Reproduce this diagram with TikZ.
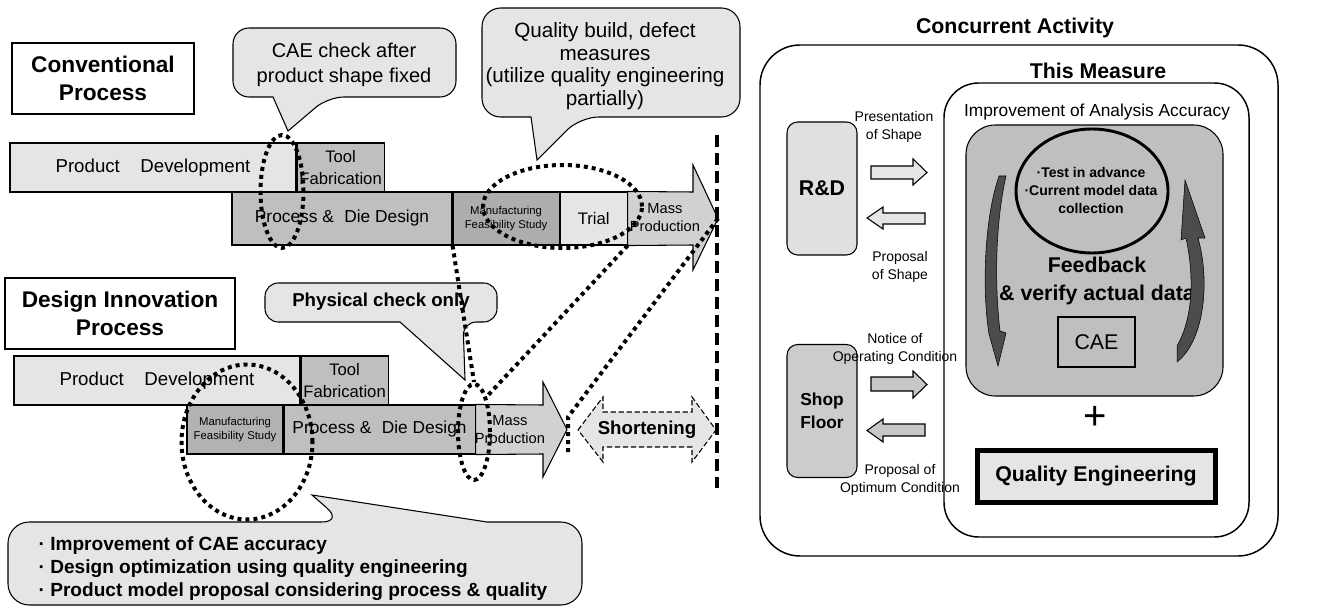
\documentclass[tikz,border=0pt]{standalone}
\usepackage{fontspec}
\setmainfont{Liberation Sans}
\usetikzlibrary{shapes.geometric, positioning, calc}

\begin{document}
\begin{tikzpicture}[x=0.75pt, y=-0.75pt]
	\tikzstyle{heading} = [draw, line width=1pt, align=center, font=\bfseries\fontsize{17}{21}\selectfont, minimum height=53.25pt, inner sep=0pt]
	\tikzstyle{bar} = [draw, thick, align=center, inner sep=0pt, minimum height=36.75pt, font=\fontsize{14}{16}\selectfont]
	\tikzstyle{bubble} = [draw, thick, fill=black!10]
	\tikzstyle{loop} = [ellipse, draw, line width=3pt, dash pattern=on 3pt off 3pt, inner sep=0pt]
	\tikzstyle{trace} = [line width=3pt, dash pattern=on 3pt off 3pt]
	\tikzstyle{party} = [draw, thick, rounded corners=8pt, minimum width=52.5pt, minimum height=99.75pt, align=center]
	\tikzstyle{small} = [align=center, font=\fontsize{10.5}{13.5}\selectfont]

	\useasboundingbox (0,0) rectangle (1326,609);

	% callouts
	\draw[bubble] (344,28) [rounded corners=12pt] -- (456,28) -- (456,97) -- (328,97) [sharp corners] -- (288,131) -- (273,97) [rounded corners=12pt] -- (233,97) -- (233,28) -- cycle;
	\node[align=center, font=\fontsize{15}{18.75}\selectfont] (note1) at (344,64.5) {CAE check after\\product shape fixed};

	\draw[bubble] (611,8) [rounded corners=14pt] -- (740,8) -- (740,117) -- (580,117) [sharp corners] -- (537,160) -- (531,117) [rounded corners=14pt] -- (482,117) -- (482,8) -- cycle;
	\node[align=center, font=\fontsize{15.5}{17}\selectfont] (note2) at (605,66) {Quality build, defect\\measures\\(utilize quality engineering\\partially)};

	\draw[bubble] (380,283) [rounded corners=10pt] -- (497,283) -- (497,322) -- (463,322) [sharp corners] -- (465,380) -- (400,322) [rounded corners=10pt] -- (265,322) -- (265,283) -- cycle;
	\node[font=\bfseries\fontsize{14}{16}\selectfont] (note3) at (381,302) {Physical check only};

	\draw[bubble] (200,605) [rounded corners=16pt] -- (8,605) -- (8,522) -- (343,522) [sharp corners] -- (312,495) -- (487,522) [rounded corners=16pt] -- (582,522) -- (582,605) -- cycle;
	\node[anchor=west, align=left, font=\bfseries\fontsize{14.3}{17.25}\selectfont] (note4) at (34,569) {· Improvement of CAE accuracy\\· Design optimization using quality engineering\\· Product model proposal considering process \& quality};

	% conventional process
	\node[heading, minimum width=136.5pt] (conv) at (103,78.5) {Conventional\\Process};
	\node[bar, fill=black!10, minimum width=214.5pt] (pd1) at (153,167.5) {Product\hspace{1.1em}Development};
	\node[bar, fill=black!25, minimum width=65.25pt, font=\fontsize{12.5}{16}\selectfont, right=0pt of pd1] (tf1) {Tool\\Fabrication};
	\node[bar, fill=black!25, minimum width=165pt, minimum height=39.75pt, font=\fontsize{13}{16}\selectfont] (pdd1) at (342,218.5) {Process \&\hspace{0.6em}Die Design};
	\node[bar, fill=black!32, minimum width=79.5pt, minimum height=39.75pt, font=\fontsize{8.5}{10.5}\selectfont, right=0pt of pdd1] (mfs1) {Manufacturing\\Feasibility Study};
	\node[bar, fill=black!10, minimum width=50.25pt, minimum height=39.75pt, font=\fontsize{12.5}{15}\selectfont, right=0pt of mfs1] (tr1) {Trial};
	\draw[thick, fill=black!18] (tr1.north east) -- (693,192) -- (693,165) -- (718,218.5) -- (693,270) -- (693,245) -- (tr1.south east) -- cycle;
	\coordinate (tip1) at (718,218.5);
	\node[align=center, font=\fontsize{11}{13.5}\selectfont] (mp1) at (665,218) {Mass\\Production};

	% design innovation process
	\node[heading, minimum width=172.5pt] (innov) at (120,313.5) {Design Innovation\\Process};
	\node[bar, fill=black!10, minimum width=214.5pt] (pd2) at (157,380.5) {Product\hspace{1.1em}Development};
	\node[bar, fill=black!25, minimum width=65.25pt, font=\fontsize{12.5}{16}\selectfont, right=0pt of pd2] (tf2) {Tool\\Fabrication};
	\node[bar, fill=black!30, minimum width=72pt, font=\fontsize{8.5}{10.5}\selectfont] (mfs2) at (235,429.5) {Manufacturing\\Feasibility Study};
	\node[bar, fill=black!25, minimum width=143.25pt, font=\fontsize{13}{16}\selectfont, right=0pt of mfs2] (pdd2) {Process \&\hspace{0.6em}Die Design};
	\draw[thick, fill=black!18] (pdd2.north east) -- (543,405) -- (543,382) -- (567,429.5) -- (543,477) -- (543,454) -- (pdd2.south east) -- cycle;
	\coordinate (tip2) at (567,429.5);
	\node[align=center, font=\fontsize{11}{13.5}\selectfont] (mp2) at (510,430) {Mass\\Production};

	% shortening
	\draw[thick, dash pattern=on 4pt off 2pt, fill=black!10] (578,430) -- (603,397) -- (603,412) -- (692,412) -- (692,397) -- (716,430) -- (692,462) -- (692,447) -- (603,447) -- (603,462) -- cycle;
	\node[font=\bfseries\fontsize{14}{16}\selectfont] (short) at (647,430) {Shortening};

	% dotted marks
	\node[loop, minimum width=32.25pt, minimum height=84.75pt] (e1) at (282,191.5) {};
	\node[loop, minimum width=119.25pt, minimum height=62.25pt] (e2) at (562.5,206.5) {};
	\node[loop, minimum width=24pt, minimum height=72pt] (e3) at (474,432) {};
	\node[loop, minimum width=98.25pt, minimum height=116.25pt] (e4) at (247,442) {};

	\coordinate (drop) at (568,417);
	\coordinate (dropend) at (568,455);
	\draw[trace] (mfs1.south west) -- (e3.north);
	\draw[trace] (tr1.south east) -- (e3.north east);
	\draw[trace] (tip1) -- (drop) -- (dropend);

	\coordinate (limtop) at (717,135);
	\coordinate (limbot) at (717,488);
	\draw[line width=3pt, dash pattern=on 9pt off 4.5pt] (limtop) -- (limbot);

	% concurrent activity
	\node[font=\bfseries\fontsize{16}{18}\selectfont] (conc) at (1015,28) {Concurrent Activity};
	\draw[line width=1.1pt, rounded corners=30pt] (760,45) rectangle (1278,556);
	\node[font=\bfseries\fontsize{16}{18}\selectfont] (meas) at (1098,71) {This Measure};
	\draw[line width=1.1pt, rounded corners=26pt] (944,83) rectangle (1249,537);
	\node[font=\fontsize{13}{15}\selectfont] (acc) at (1097,112) {Improvement of Analysis Accuracy};
	\draw[thick, fill=black!25, rounded corners=22pt] (966,125) rectangle (1223,396);

	\node[ellipse, draw, line width=2.2pt, minimum width=114pt, minimum height=93pt] (test) at (1092,191) {};
	\node[align=center, font=\bfseries\fontsize{10.5}{13.5}\selectfont] (testtxt) at (1091,190) {·Test in advance\\·Current model data\\collection};
	\node[align=center, font=\bfseries\fontsize{16}{20.5}\selectfont] (feed) at (1097,281) {Feedback\\\& verify actual data};
	\node[draw, line width=2.2pt, minimum width=57.75pt, minimum height=37.5pt, font=\fontsize{16}{18}\selectfont] (cae) at (1096.5,342) {CAE};

	% cycle arrows
	\draw[thin, fill=black!70] (999,176) .. controls (984,220) and (982,290) .. (989,334) -- (998,366) -- (1006,333) -- (1000,331) .. controls (994,280) and (996,220) .. (1006,176) -- cycle;
	\draw[thin, fill=black!70] (1185,180) -- (1205,238) -- (1198,238) .. controls (1210,280) and (1205,340) .. (1177,362) -- (1177,346) .. controls (1192,320) and (1195,280) .. (1186,238) -- (1181,240) -- cycle;

	\node[font=\fontsize{30}{30}\selectfont] (plus) at (1095,418) {+};
	\node[draw, line width=3.75pt, fill=black!10, minimum width=178.5pt, minimum height=39pt, font=\bfseries\fontsize{16}{18}\selectfont] (qe) at (1096,476) {Quality Engineering};

	% departments
	\node[party, fill=black!12, font=\bfseries\fontsize{16}{18}\selectfont] (rd) at (822,188.5) {R\&D};
	\node[party, fill=black!20, font=\bfseries\fontsize{13}{17}\selectfont] (shop) at (822,411) {Shop\\Floor};

	\node[small] (pres) at (894,127) {Presentation\\of Shape};
	\draw[thick, fill=black!10] (871,166) -- (913,166) -- (913,159) -- (927,172.5) -- (913,185) -- (913,179) -- (871,179) -- cycle;
	\draw[thick, fill=black!10] (925,213) -- (883,213) -- (883,207) -- (867,218) -- (883,229) -- (883,224) -- (925,224) -- cycle;
	\node[small] (prop) at (900,267) {Proposal\\of Shape};

	\node[small] (notice) at (895,349) {Notice of\\Operating Condition};
	\draw[thick, fill=black!22] (871,377) -- (913,377) -- (913,371) -- (927,384.5) -- (913,398) -- (913,391) -- (871,391) -- cycle;
	\draw[thick, fill=black!22] (925,424) -- (883,424) -- (883,419) -- (867,430.5) -- (883,442) -- (883,436) -- (925,436) -- cycle;
	\node[small] (optim) at (900,480) {Proposal of\\Optimum Condition};
\end{tikzpicture}
\end{document}
